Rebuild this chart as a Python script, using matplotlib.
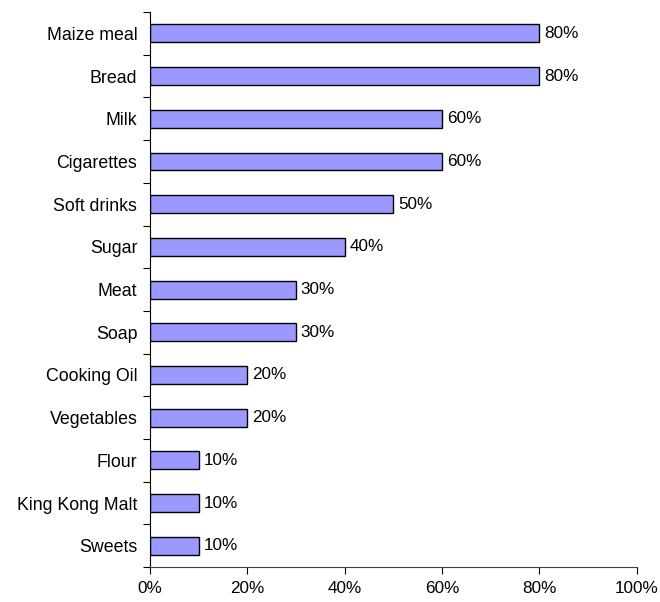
import matplotlib
matplotlib.use('Agg')
import numpy as np
import matplotlib.pyplot as plt

# data, top to bottom as in the chart
items = ['Maize meal', 'Bread', 'Milk', 'Cigarettes', 'Soft drinks', 'Sugar', 'Meat',
         'Soap', 'Cooking Oil', 'Vegetables', 'Flour', 'King Kong Malt', 'Sweets']
shares = [80, 80, 60, 60, 50, 40, 30, 30, 20, 20, 10, 10, 10]
xticks = [0, 20, 40, 60, 80, 100]

plt.rcParams['font.family'] = ['Liberation Sans', 'DejaVu Sans']
fs = 12.3

fig = plt.figure(figsize=(6.6, 6.02), dpi=100)
ax = fig.add_axes([0.227, 0.058, 0.738, 0.922])

n = len(items)
ypos = np.arange(n)[::-1]
ax.barh(ypos, shares, height=0.42, color='#9999FF', edgecolor='black', linewidth=1)

for y, v in zip(ypos, shares):
    ax.text(v + 1, y, '%d%%' % v, va='center', ha='left', fontsize=fs)

ax.set_xlim(0, 100)
ax.set_ylim(-0.5, n - 0.5)
ax.set_xticks(xticks)
ax.set_xticklabels(['%d%%' % t for t in xticks], fontsize=fs)

# category boundaries get the tick marks, labels sit in the middle
ax.set_yticks(np.arange(n + 1) - 0.5)
ax.set_yticklabels([])
ax.set_yticks(ypos, minor=True)
ax.set_yticklabels(items, minor=True, fontsize=12.8)
ax.tick_params(axis='y', which='minor', length=0, pad=9)
ax.tick_params(axis='y', which='major', length=5, direction='out')
ax.tick_params(axis='x', length=5, direction='out', pad=5)

for s in ['top', 'right']:
    ax.spines[s].set_visible(False)
ax.spines['left'].set_color('black')
ax.spines['bottom'].set_color('#444444')

fig.savefig('out.png', dpi=100)
